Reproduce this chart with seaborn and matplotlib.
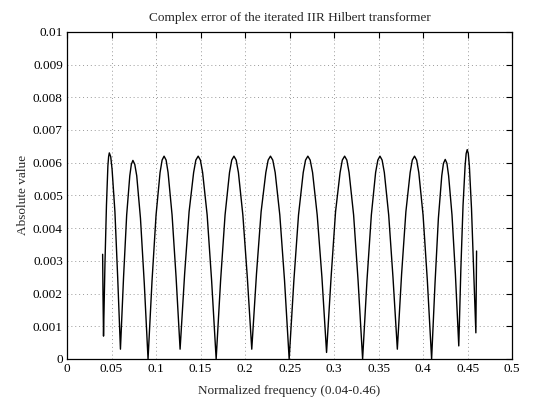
import matplotlib
matplotlib.use("Agg")
import matplotlib.pyplot as plt
import seaborn as sns
import pandas as pd
from matplotlib.ticker import FormatStrFormatter, MultipleLocator

# Values (one row per ripple lobe)
freq = [
    0.0400, 0.0404, 0.0410,
    0.0426, 0.0443, 0.0459, 0.0467, 0.0475, 0.0491, 0.0506, 0.0538, 0.0569, 0.0600,
    0.0635, 0.0670, 0.0705, 0.07225, 0.0740, 0.0761, 0.0783, 0.0825, 0.0868, 0.0910,
    0.0955, 0.1000, 0.1045, 0.1068, 0.1090, 0.1113, 0.1135, 0.1180, 0.1225, 0.1270,
    0.1321, 0.1371, 0.1422, 0.1447, 0.1473, 0.1498, 0.1523, 0.1574, 0.1624, 0.1675,
    0.1725, 0.1775, 0.1825, 0.1850, 0.1875, 0.1900, 0.1925, 0.1975, 0.2025, 0.2075,
    0.2128, 0.2180, 0.2233, 0.2259, 0.2285, 0.2311, 0.2338, 0.2390, 0.2443, 0.2495,
    0.2548, 0.2600, 0.2653, 0.2679, 0.2705, 0.2731, 0.2758, 0.2810, 0.2863, 0.2915,
    0.2966, 0.3016, 0.3067, 0.3092, 0.3118, 0.3143, 0.3168, 0.3219, 0.3269, 0.3320,
    0.3369, 0.3418, 0.3466, 0.3491, 0.3515, 0.3539, 0.3564, 0.3613, 0.3661, 0.3710,
    0.3758, 0.3806, 0.3854, 0.3878, 0.3903, 0.3927, 0.3951, 0.3999, 0.4047, 0.4095,
    0.4133, 0.4171, 0.4209, 0.4228, 0.4248, 0.4267, 0.4286, 0.4324, 0.4362, 0.4400,
    0.4424, 0.4448, 0.4471, 0.4483, 0.4495, 0.4507, 0.4519, 0.4543, 0.4566, 0.4592,
    0.4600,
]
abs_err = [
    0.0032, 0.0020, 0.0007,
    0.0029, 0.0047, 0.0059, 0.00618, 0.0063, 0.00618, 0.0058, 0.0045, 0.0025, 0.0003,
    0.0025, 0.0044, 0.0056, 0.00595, 0.00607, 0.00595, 0.0056, 0.0043, 0.0023, 0.0000,
    0.0024, 0.0044, 0.0057, 0.00608, 0.0062, 0.00608, 0.0057, 0.0044, 0.0025, 0.0003,
    0.0026, 0.0045, 0.0057, 0.00608, 0.0062, 0.00608, 0.0057, 0.0044, 0.0024, 0.0000,
    0.0024, 0.0044, 0.0057, 0.00608, 0.0062, 0.00608, 0.0057, 0.0044, 0.0025, 0.0003,
    0.0026, 0.0045, 0.0057, 0.00608, 0.0062, 0.00608, 0.0057, 0.0044, 0.0024, 0.0000,
    0.0024, 0.0044, 0.0057, 0.00608, 0.0062, 0.00608, 0.0057, 0.0044, 0.0025, 0.0002,
    0.0025, 0.0045, 0.0057, 0.00608, 0.0062, 0.00608, 0.0057, 0.0044, 0.0024, 0.0000,
    0.0024, 0.0044, 0.0057, 0.00608, 0.0062, 0.00608, 0.0057, 0.0044, 0.0025, 0.0003,
    0.0026, 0.0045, 0.0057, 0.00608, 0.0062, 0.00608, 0.0057, 0.0044, 0.0024, 0.0000,
    0.0023, 0.0043, 0.0056, 0.00598, 0.0061, 0.00598, 0.0056, 0.0044, 0.0026, 0.0004,
    0.0028, 0.0047, 0.0059, 0.00628, 0.0064, 0.00628, 0.0059, 0.0046, 0.0028, 0.0008,
    0.0033,
]

df = pd.DataFrame({'freq': freq, 'abs_err': abs_err})

sns.set_style('white')
plt.rcParams['font.family'] = ['Liberation Serif', 'DejaVu Serif']
plt.rcParams['font.size'] = 9

fig = plt.figure(figsize=(5.37, 3.98), dpi=100)
ax = fig.add_axes([0.1248, 0.098, 0.829, 0.822])

sns.lineplot(data=df, x='freq', y='abs_err', sort=False, estimator=None,
             color='black', linewidth=1.0, ax=ax)

ax.set_xlim(0, 0.5)
ax.set_ylim(0, 0.01)
ax.xaxis.set_major_locator(MultipleLocator(0.05))
ax.yaxis.set_major_locator(MultipleLocator(0.001))
ax.xaxis.set_major_formatter(FormatStrFormatter('%g'))
ax.yaxis.set_major_formatter(FormatStrFormatter('%g'))
ax.grid(True, linestyle=(0, (1, 3)), color='#999999', linewidth=0.7)
ax.tick_params(direction='in', length=4, width=0.8, top=True, right=True,
               labelsize=9.5, colors='black', pad=3)
for s in ax.spines.values():
    s.set_color('black')
    s.set_linewidth(0.9)

ax.set_title('Complex error of the iterated IIR Hilbert transformer', fontsize=9.5, pad=8)
ax.set_xlabel('Normalized frequency (0.04-0.46)', fontsize=9.5, labelpad=7)
ax.set_ylabel('Absolute value', fontsize=9.5, labelpad=3)

fig.savefig('out.png', dpi=100)
